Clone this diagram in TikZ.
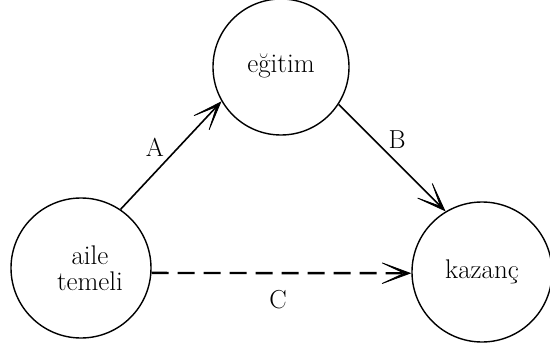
\documentclass[tikz,border=0pt]{standalone}
\usepackage{fontspec}
\setmainfont{Latin Modern Roman}
\usetikzlibrary{arrows.meta}
\begin{document}
\begin{tikzpicture}[x=1pt,y=-1pt,
  circ/.style={draw, circle, line width=1.4pt, inner sep=0pt, minimum size=#1, align=center, font=\fontsize{27}{31}\selectfont},
  tip/.tip={Stealth[length=38pt, width=28pt, inset=30pt, line width=0.8pt]},
  conn/.style={line width=1.6pt, -tip},
  lbl/.style={font=\fontsize{26}{30}\selectfont, inner sep=0pt}]
\useasboundingbox (0,0) rectangle (550,348);
\node[circ=136pt] (eg) at (281,67) {\raisebox{7pt}{eğitim}};
\node[circ=140pt] (ai) at (81,268) {\hspace*{18pt}aile\\[-5pt]\hspace*{18pt}temeli};
\node[circ=140pt] (kz) at (482,272) {kazanç};
\draw[conn] (ai.56) -- (eg.210);
\draw[conn] (eg.-33) -- (kz.121);
\draw[conn, line width=2.4pt, dash pattern=on 17pt off 9pt] (ai.-4) -- (kz.181);
\node[lbl] (la) at (155,147) {A};
\node[lbl] (lb) at (397,140) {B};
\node[lbl] (lc) at (278,300) {C};
\end{tikzpicture}
\end{document}
